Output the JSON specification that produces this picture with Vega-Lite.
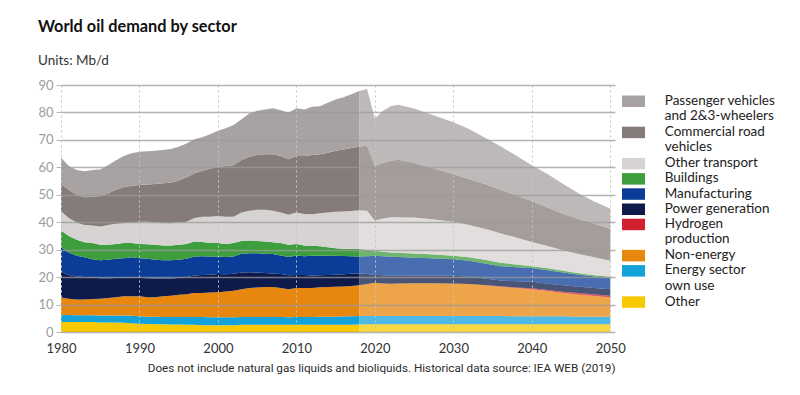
{
  "$schema": "https://vega.github.io/schema/vega-lite/v6.json",
  "width": 554,
  "height": 247,
  "padding": {"left": 61, "top": 85, "right": 185, "bottom": 63},
  "autosize": {"type": "none"},
  "background": "white",
  "title": {
    "text": "World oil demand by sector",
    "subtitle": "Units: Mb/d",
    "anchor": "start",
    "frame": "group",
    "dx": -23,
    "offset": 12,
    "font": "Lato",
    "fontSize": 16.3,
    "fontWeight": "bold",
    "color": "#111111",
    "subtitleFont": "Lato",
    "subtitleFontSize": 13.5,
    "subtitleColor": "#333333",
    "subtitlePadding": 18.5
  },
  "datasets": {
    "hist": [
      {"year":1980,"other":3.6,"energy":2.7,"nonenergy":6.3,"hydrogen":0,"power":9.2,"manufacturing":9.0,"buildings":6.2,"othertransport":7.0,"commercial":10.0,"passenger":9.5},
      {"year":1981,"other":3.6,"energy":2.6,"nonenergy":5.9,"hydrogen":0,"power":8.7,"manufacturing":8.2,"buildings":6.0,"othertransport":6.5,"commercial":10.3,"passenger":8.7},
      {"year":1982,"other":3.6,"energy":2.5,"nonenergy":5.7,"hydrogen":0,"power":8.4,"manufacturing":7.6,"buildings":5.8,"othertransport":6.3,"commercial":10.0,"passenger":9.1},
      {"year":1983,"other":3.6,"energy":2.5,"nonenergy":5.7,"hydrogen":0,"power":8.2,"manufacturing":7.2,"buildings":5.5,"othertransport":6.3,"commercial":10.1,"passenger":9.5},
      {"year":1984,"other":3.6,"energy":2.5,"nonenergy":5.9,"hydrogen":0,"power":7.9,"manufacturing":6.6,"buildings":5.9,"othertransport":6.4,"commercial":10.5,"passenger":9.7},
      {"year":1985,"other":3.5,"energy":2.5,"nonenergy":6.1,"hydrogen":0,"power":7.5,"manufacturing":6.5,"buildings":5.7,"othertransport":6.6,"commercial":11.2,"passenger":9.6},
      {"year":1986,"other":3.5,"energy":2.5,"nonenergy":6.4,"hydrogen":0,"power":7.2,"manufacturing":6.7,"buildings":5.5,"othertransport":7.2,"commercial":11.5,"passenger":10.3},
      {"year":1987,"other":3.5,"energy":2.5,"nonenergy":6.7,"hydrogen":0,"power":7.0,"manufacturing":7.0,"buildings":5.4,"othertransport":7.3,"commercial":12.4,"passenger":10.8},
      {"year":1988,"other":3.4,"energy":2.6,"nonenergy":7.0,"hydrogen":0,"power":6.8,"manufacturing":7.1,"buildings":5.5,"othertransport":7.2,"commercial":13.1,"passenger":11.4},
      {"year":1989,"other":3.2,"energy":2.7,"nonenergy":7.1,"hydrogen":0,"power":6.9,"manufacturing":7.3,"buildings":5.2,"othertransport":7.5,"commercial":13.4,"passenger":11.8},
      {"year":1990,"other":3.0,"energy":2.7,"nonenergy":7.3,"hydrogen":0,"power":6.8,"manufacturing":7.1,"buildings":5.2,"othertransport":8.1,"commercial":13.4,"passenger":12.1},
      {"year":1991,"other":2.9,"energy":2.7,"nonenergy":7.1,"hydrogen":0,"power":6.9,"manufacturing":7.1,"buildings":5.3,"othertransport":8.2,"commercial":13.5,"passenger":12.2},
      {"year":1992,"other":2.8,"energy":2.8,"nonenergy":7.1,"hydrogen":0,"power":6.8,"manufacturing":6.8,"buildings":5.5,"othertransport":8.2,"commercial":13.9,"passenger":12.1},
      {"year":1993,"other":2.8,"energy":2.7,"nonenergy":7.5,"hydrogen":0,"power":6.4,"manufacturing":6.7,"buildings":5.4,"othertransport":8.1,"commercial":14.6,"passenger":12.1},
      {"year":1994,"other":2.7,"energy":2.8,"nonenergy":7.7,"hydrogen":0,"power":6.3,"manufacturing":6.6,"buildings":5.4,"othertransport":8.1,"commercial":14.8,"passenger":12.3},
      {"year":1995,"other":2.7,"energy":2.8,"nonenergy":8.1,"hydrogen":0,"power":6.1,"manufacturing":6.6,"buildings":5.5,"othertransport":8.1,"commercial":15.3,"passenger":12.3},
      {"year":1996,"other":2.6,"energy":2.9,"nonenergy":8.3,"hydrogen":0,"power":6.2,"manufacturing":6.7,"buildings":5.4,"othertransport":8.1,"commercial":16.2,"passenger":12.3},
      {"year":1997,"other":2.6,"energy":2.9,"nonenergy":8.7,"hydrogen":0,"power":6.4,"manufacturing":6.9,"buildings":5.5,"othertransport":8.5,"commercial":16.3,"passenger":12.4},
      {"year":1998,"other":2.5,"energy":3.0,"nonenergy":8.7,"hydrogen":0,"power":6.6,"manufacturing":6.8,"buildings":5.2,"othertransport":9.2,"commercial":16.8,"passenger":12.2},
      {"year":1999,"other":2.5,"energy":2.9,"nonenergy":9.0,"hydrogen":0,"power":6.5,"manufacturing":6.6,"buildings":4.9,"othertransport":9.6,"commercial":17.6,"passenger":12.5},
      {"year":2000,"other":2.5,"energy":2.9,"nonenergy":9.1,"hydrogen":0,"power":6.6,"manufacturing":6.4,"buildings":4.9,"othertransport":9.9,"commercial":17.7,"passenger":13.3},
      {"year":2001,"other":2.5,"energy":2.9,"nonenergy":9.4,"hydrogen":0,"power":6.2,"manufacturing":6.3,"buildings":4.8,"othertransport":9.9,"commercial":18.5,"passenger":13.7},
      {"year":2002,"other":2.5,"energy":2.9,"nonenergy":9.6,"hydrogen":0,"power":6.2,"manufacturing":6.3,"buildings":4.9,"othertransport":9.6,"commercial":18.8,"passenger":14.6},
      {"year":2003,"other":2.6,"energy":2.9,"nonenergy":10.1,"hydrogen":0,"power":6.1,"manufacturing":6.8,"buildings":4.7,"othertransport":10.3,"commercial":19.2,"passenger":14.8},
      {"year":2004,"other":2.6,"energy":2.9,"nonenergy":10.5,"hydrogen":0,"power":5.8,"manufacturing":6.9,"buildings":4.6,"othertransport":10.9,"commercial":19.7,"passenger":15.7},
      {"year":2005,"other":2.6,"energy":2.9,"nonenergy":10.7,"hydrogen":0,"power":5.5,"manufacturing":7.0,"buildings":4.5,"othertransport":11.3,"commercial":20.0,"passenger":16.1},
      {"year":2006,"other":2.6,"energy":2.9,"nonenergy":10.9,"hydrogen":0,"power":5.1,"manufacturing":7.0,"buildings":4.5,"othertransport":11.5,"commercial":20.3,"passenger":16.3},
      {"year":2007,"other":2.6,"energy":2.9,"nonenergy":10.9,"hydrogen":0,"power":4.9,"manufacturing":7.1,"buildings":4.3,"othertransport":11.5,"commercial":20.6,"passenger":16.7},
      {"year":2008,"other":2.6,"energy":2.9,"nonenergy":10.5,"hydrogen":0,"power":5.1,"manufacturing":6.8,"buildings":4.5,"othertransport":11.1,"commercial":20.6,"passenger":16.7},
      {"year":2009,"other":2.6,"energy":2.8,"nonenergy":10.2,"hydrogen":0,"power":5.1,"manufacturing":6.6,"buildings":4.5,"othertransport":10.9,"commercial":20.2,"passenger":17.0},
      {"year":2010,"other":2.6,"energy":2.9,"nonenergy":10.5,"hydrogen":0,"power":4.8,"manufacturing":7.1,"buildings":4.2,"othertransport":11.4,"commercial":20.6,"passenger":17.4},
      {"year":2011,"other":2.6,"energy":2.9,"nonenergy":10.5,"hydrogen":0,"power":4.8,"manufacturing":6.8,"buildings":3.9,"othertransport":11.5,"commercial":21.1,"passenger":17.0},
      {"year":2012,"other":2.6,"energy":2.9,"nonenergy":10.5,"hydrogen":0,"power":4.6,"manufacturing":7.2,"buildings":3.6,"othertransport":11.5,"commercial":21.6,"passenger":17.6},
      {"year":2013,"other":2.6,"energy":3.0,"nonenergy":10.7,"hydrogen":0,"power":4.4,"manufacturing":7.1,"buildings":3.4,"othertransport":12.1,"commercial":21.5,"passenger":17.5},
      {"year":2014,"other":2.6,"energy":3.0,"nonenergy":10.8,"hydrogen":0,"power":4.4,"manufacturing":7.0,"buildings":3.1,"othertransport":12.6,"commercial":21.8,"passenger":18.2},
      {"year":2015,"other":2.6,"energy":3.0,"nonenergy":10.9,"hydrogen":0,"power":4.4,"manufacturing":6.9,"buildings":2.7,"othertransport":13.3,"commercial":22.2,"passenger":18.7},
      {"year":2016,"other":2.6,"energy":3.1,"nonenergy":10.9,"hydrogen":0,"power":4.4,"manufacturing":6.7,"buildings":2.6,"othertransport":13.6,"commercial":22.6,"passenger":19.0},
      {"year":2017,"other":2.6,"energy":3.1,"nonenergy":11.1,"hydrogen":0,"power":4.4,"manufacturing":6.4,"buildings":2.6,"othertransport":13.9,"commercial":22.9,"passenger":19.6},
      {"year":2018,"other":2.7,"energy":3.1,"nonenergy":11.2,"hydrogen":0,"power":4.3,"manufacturing":6.2,"buildings":2.7,"othertransport":14.2,"commercial":23.1,"passenger":20.3}
    ],
    "proj": [
      {"year":2018,"other":2.7,"energy":3.1,"nonenergy":11.2,"hydrogen":0,"power":4.3,"manufacturing":6.2,"buildings":2.7,"othertransport":14.2,"commercial":23.1,"passenger":20.3},
      {"year":2019,"other":2.8,"energy":3.0,"nonenergy":11.7,"hydrogen":0,"power":3.6,"manufacturing":6.5,"buildings":2.4,"othertransport":14.2,"commercial":23.7,"passenger":20.6},
      {"year":2020,"other":2.8,"energy":3.0,"nonenergy":12.1,"hydrogen":0,"power":3.0,"manufacturing":6.9,"buildings":1.8,"othertransport":11.0,"commercial":19.9,"passenger":17.3},
      {"year":2021,"other":2.8,"energy":3.0,"nonenergy":11.9,"hydrogen":0,"power":3.0,"manufacturing":6.9,"buildings":1.6,"othertransport":12.2,"commercial":20.2,"passenger":18.9},
      {"year":2022,"other":2.8,"energy":3.0,"nonenergy":11.8,"hydrogen":0,"power":2.9,"manufacturing":6.9,"buildings":1.6,"othertransport":12.8,"commercial":20.6,"passenger":19.9},
      {"year":2023,"other":2.8,"energy":3.0,"nonenergy":11.9,"hydrogen":0,"power":2.8,"manufacturing":6.8,"buildings":1.6,"othertransport":12.9,"commercial":21.0,"passenger":20.0},
      {"year":2025,"other":2.8,"energy":3.0,"nonenergy":12.0,"hydrogen":0,"power":2.8,"manufacturing":6.5,"buildings":1.5,"othertransport":13.1,"commercial":19.9,"passenger":19.8},
      {"year":2027,"other":2.8,"energy":3.0,"nonenergy":12.0,"hydrogen":0,"power":2.8,"manufacturing":6.3,"buildings":1.4,"othertransport":12.9,"commercial":18.8,"passenger":19.4},
      {"year":2030,"other":2.8,"energy":3.0,"nonenergy":11.9,"hydrogen":0,"power":2.8,"manufacturing":6.0,"buildings":1.3,"othertransport":12.4,"commercial":17.4,"passenger":18.8},
      {"year":2032,"other":2.8,"energy":3.0,"nonenergy":11.7,"hydrogen":0,"power":2.7,"manufacturing":5.8,"buildings":1.2,"othertransport":11.8,"commercial":16.7,"passenger":18.3},
      {"year":2034,"other":2.8,"energy":3.0,"nonenergy":11.2,"hydrogen":0.1,"power":2.4,"manufacturing":5.5,"buildings":1.3,"othertransport":11.3,"commercial":16.3,"passenger":17.0},
      {"year":2036,"other":2.8,"energy":3.0,"nonenergy":10.7,"hydrogen":0.2,"power":2.1,"manufacturing":5.2,"buildings":1.2,"othertransport":10.8,"commercial":15.8,"passenger":15.9},
      {"year":2038,"other":2.8,"energy":2.9,"nonenergy":10.3,"hydrogen":0.2,"power":2.3,"manufacturing":5.1,"buildings":1.0,"othertransport":9.8,"commercial":15.3,"passenger":14.6},
      {"year":2040,"other":2.8,"energy":2.9,"nonenergy":9.9,"hydrogen":0.3,"power":2.4,"manufacturing":5.0,"buildings":0.7,"othertransport":8.8,"commercial":14.9,"passenger":13.1},
      {"year":2042,"other":2.8,"energy":2.9,"nonenergy":9.2,"hydrogen":0.4,"power":2.3,"manufacturing":4.9,"buildings":0.7,"othertransport":8.1,"commercial":14.1,"passenger":12.2},
      {"year":2044,"other":2.8,"energy":2.9,"nonenergy":8.5,"hydrogen":0.5,"power":2.3,"manufacturing":4.7,"buildings":0.6,"othertransport":7.5,"commercial":13.2,"passenger":10.9},
      {"year":2046,"other":2.8,"energy":2.8,"nonenergy":8.0,"hydrogen":0.6,"power":2.3,"manufacturing":4.4,"buildings":0.5,"othertransport":7.0,"commercial":12.8,"passenger":9.3},
      {"year":2048,"other":2.8,"energy":2.8,"nonenergy":7.5,"hydrogen":0.6,"power":2.3,"manufacturing":4.2,"buildings":0.5,"othertransport":6.5,"commercial":12.2,"passenger":8.1},
      {"year":2050,"other":2.8,"energy":2.8,"nonenergy":7.0,"hydrogen":0.6,"power":2.4,"manufacturing":4.0,"buildings":0.5,"othertransport":5.9,"commercial":11.5,"passenger":7.5}
    ]
  },
  "encoding": {
    "x": {
      "field": "year",
      "type": "quantitative",
      "scale": {"domain": [1980, 2050.6], "nice": false, "zero": false},
      "axis": {
        "values": [1980, 1990, 2000, 2010, 2020, 2030, 2040, 2050],
        "format": "d",
        "title": "Does not include natural gas liquids and bioliquids. Historical data source: IEA WEB (2019)",
        "titleAnchor": "end",
        "titleFont": "Roboto",
        "titleFontSize": 11.7,
        "titleFontWeight": "normal",
        "titleColor": "#2a2a2a",
        "titlePadding": 7,
        "labelFont": "Lato",
        "labelFontSize": 13,
        "labelColor": "#333333",
        "labelPadding": 10,
        "labelFlush": false,
        "domain": false,
        "ticks": false,
        "grid": true,
        "gridColor": "#c4c4c4",
        "gridDash": [2, 3],
        "gridWidth": 1,
        "zindex": 1
      }
    },
    "y": {
      "field": "value",
      "type": "quantitative",
      "stack": "zero",
      "scale": {"domain": [0, 90], "nice": false},
      "axis": {
        "values": [0, 10, 20, 30, 40, 50, 60, 70, 80, 90],
        "title": null,
        "labelFont": "Lato",
        "labelFontSize": 13,
        "labelColor": "#9c9c9c",
        "labelPadding": 3,
        "domain": false,
        "ticks": true,
        "tickSize": 5,
        "tickColor": "#b5b5b5",
        "grid": true,
        "gridColor": "#9a9a9a",
        "gridOpacity": 0.75,
        "gridWidth": 1.5,
        "zindex": 1
      }
    },
    "color": {
      "field": "sector",
      "type": "nominal",
      "scale": {
        "domain": ["passenger", "commercial", "othertransport", "buildings", "manufacturing", "power", "hydrogen", "nonenergy", "energy", "other"],
        "range": ["#A8A2A2", "#857C7A", "#D7D3D2", "#3E9E3E", "#0B3C97", "#0E1B4A", "#D2202F", "#E8870E", "#14A2DA", "#F6C900"]
      },
      "legend": {
        "orient": "none",
        "legendX": 561,
        "legendY": 9.5,
        "title": null,
        "padding": 0,
        "symbolType": "M-2,-1H2V1H-2Z",
        "symbolSize": 132.25,
        "symbolStrokeWidth": 0,
        "symbolOpacity": 1,
        "symbolOffset": 4.75,
        "labelFont": "Lato",
        "labelFontSize": 13.5,
        "labelColor": "#222222",
        "labelOffset": 24.5,
        "labelLimit": 200,
        "labelBaseline": "top",
        "rowPadding": 1.2,
        "labelExpr": "datum.label === 'passenger' ? ['Passenger vehicles', 'and 2&3-wheelers'] : datum.label === 'commercial' ? ['Commercial road', 'vehicles'] : datum.label === 'othertransport' ? 'Other transport' : datum.label === 'buildings' ? 'Buildings' : datum.label === 'manufacturing' ? 'Manufacturing' : datum.label === 'power' ? 'Power generation' : datum.label === 'hydrogen' ? ['Hydrogen', 'production'] : datum.label === 'nonenergy' ? 'Non-energy' : datum.label === 'energy' ? ['Energy sector', 'own use'] : 'Other'",
        "encode": {"labels": {"update": {"dy": {"value": -7.5}}}}
      }
    },
    "order": {"field": "ord", "type": "quantitative"}
  },
  "layer": [
    {
      "data": {"name": "hist"},
      "transform": [
        {"fold": ["other", "energy", "nonenergy", "hydrogen", "power", "manufacturing", "buildings", "othertransport", "commercial", "passenger"], "as": ["sector", "value"]},
        {"calculate": "indexof(['other', 'energy', 'nonenergy', 'hydrogen', 'power', 'manufacturing', 'buildings', 'othertransport', 'commercial', 'passenger'], datum.sector)", "as": "ord"}
      ],
      "mark": {"type": "area", "opacity": 1}
    },
    {
      "data": {"name": "proj"},
      "transform": [
        {"fold": ["other", "energy", "nonenergy", "hydrogen", "power", "manufacturing", "buildings", "othertransport", "commercial", "passenger"], "as": ["sector", "value"]},
        {"calculate": "indexof(['other', 'energy', 'nonenergy', 'hydrogen', 'power', 'manufacturing', 'buildings', 'othertransport', 'commercial', 'passenger'], datum.sector)", "as": "ord"}
      ],
      "mark": {"type": "area", "opacity": 0.75}
    }
  ],
  "config": {
    "view": {"stroke": null},
    "font": "Lato"
  }
}
